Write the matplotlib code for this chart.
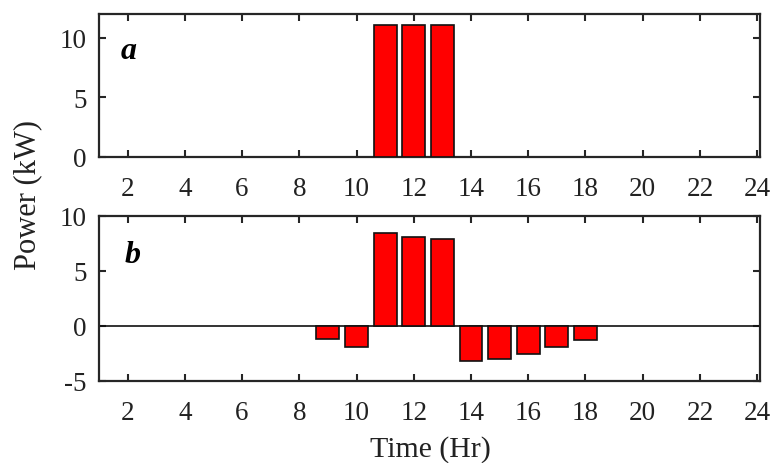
import matplotlib
matplotlib.use("Agg")
import matplotlib.pyplot as plt
import numpy as np

hours = list(range(1, 25))
power_a = [0, 0, 0, 0, 0, 0, 0, 0, 0, 0, 11.05, 11.05, 11.05, 0, 0, 0, 0, 0, 0, 0, 0, 0, 0, 0]
power_b = [0, 0, 0, 0, 0, 0, 0, 0, -1.2, -1.88, 8.5, 8.1, 7.88, -3.18, -2.97, -2.52, -1.94, -1.27,
           0, 0, 0, 0, 0, 0]
xticks = list(range(2, 25, 2))
yticks_a = [0, 5, 10]
yticks_b = [-5, 0, 5, 10]
panel_labels = ["a", "b"]

plt.rcParams['font.family'] = ['Liberation Serif', 'DejaVu Serif']
plt.rcParams['axes.unicode_minus'] = False
fig = plt.figure(figsize=(7.75, 4.64), dpi=100)
W, H = 775, 464
ax1 = fig.add_axes([99 / W, 1 - 158 / H, (760 - 99) / W, (158 - 15) / H])
ax2 = fig.add_axes([99 / W, 1 - 382 / H, (760 - 99) / W, (382 - 217) / H])

edge = '#262626'
for ax, vals, yt, yl, lab, lx, ly in [(ax1, power_a, yticks_a, (0, 12), panel_labels[0], 0.045, 0.745),
                                      (ax2, power_b, yticks_b, (-5, 10), panel_labels[1], 0.051, 0.765)]:
    nz = [(h, v) for h, v in zip(hours, vals) if v != 0]
    ax.bar([h for h, v in nz], [v for h, v in nz], width=0.8, color='#FF0000',
           edgecolor='#111111', linewidth=1.2, zorder=3)
    ax.set_xlim(1, 24.1)
    ax.set_ylim(*yl)
    ax.set_xticks(xticks)
    ax.set_yticks(yt)
    ax.tick_params(axis='both', direction='in', length=5, width=1.5, colors=edge,
                   labelsize=19.5, top=True, right=True, labelcolor='#222222')
    ax.tick_params(axis='x', pad=14)
    ax.tick_params(axis='y', pad=9)
    for s in ax.spines.values():
        s.set_linewidth(1.6)
        s.set_color(edge)
    ax.text(lx, ly, lab, transform=ax.transAxes, fontsize=23, fontweight='bold',
            fontstyle='italic', ha='center', va='center', color='black')

ax2.axhline(0, color='#111111', linewidth=1.2, zorder=2)

fig.text(28 / W, 1 - 195 / H, 'Power (kW)', rotation=90, fontsize=22, ha='center', va='center',
         color='#222222')
fig.text(430 / W, 1 - 457 / H, 'Time (Hr)', fontsize=21.5, ha='center', va='baseline',
         color='#222222')

fig.savefig('out.png', dpi=100)
